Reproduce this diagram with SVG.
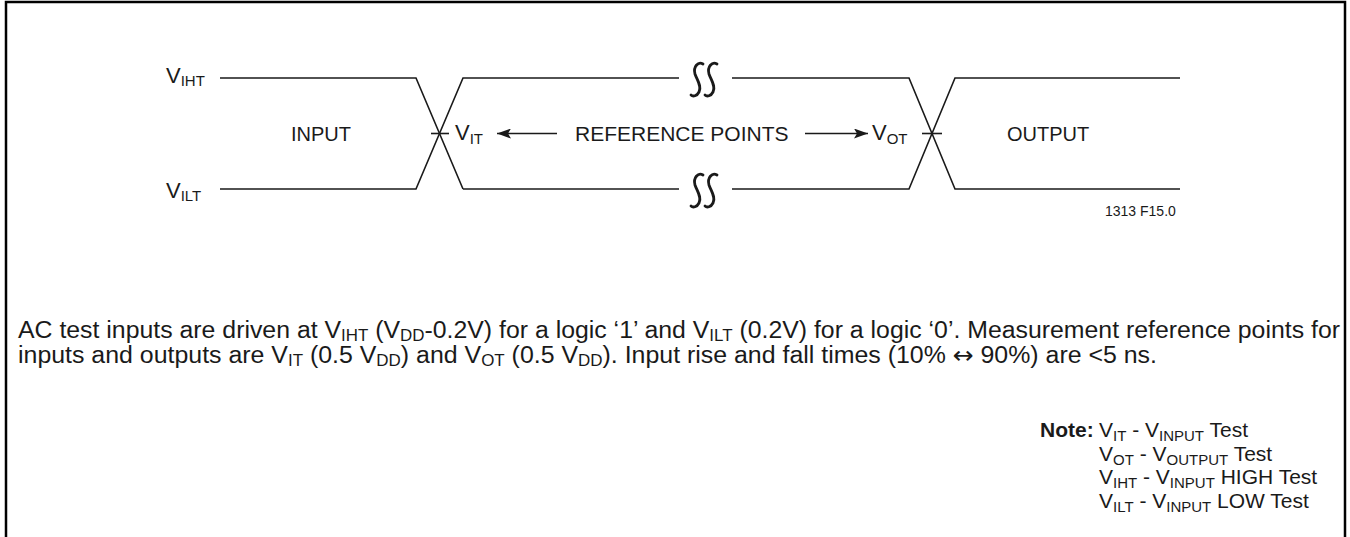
<svg xmlns="http://www.w3.org/2000/svg" width="1350" height="537" viewBox="0 0 1350 537">
<defs>
<style>
.t{font-family:"Liberation Sans",Arial,Helvetica,sans-serif;fill:#1a1a1a}
.lbl{font-size:20px}
.vbig{font-size:22px}
.sub{font-size:15px}
.body{font-size:23.5px}
.bsub{font-size:16px}
.nt{font-size:21px}
.nsub{font-size:15px}
.wave{fill:none;stroke:#1a1a1a;stroke-width:1.6;stroke-linejoin:miter}
.sq{fill:none;stroke:#1a1a1a;stroke-width:2.8;stroke-linecap:round}
.arr{stroke:#1a1a1a;stroke-width:1.6;fill:none}
</style>
<marker id="ah" viewBox="0 0 14 10" refX="14" refY="5" markerWidth="14" markerHeight="10" markerUnits="userSpaceOnUse" orient="auto">
<path d="M0,0 L14,5 L0,10 L3,5 z" fill="#1a1a1a"/>
</marker>
<path id="squig" d="M6,-16 C1,-19 -4,-13 -2,-6 C0,0 5,6 2,12 C0,16 -4,17 -6,15"/>
</defs>
<rect width="1350" height="537" fill="#ffffff"/>
<path d="M6,540 V2 H1345 V540" fill="none" stroke="#000" stroke-width="2.5"/>

<g id="waveforms">
<path class="wave" d="M220,78 H416 L463,189"/>
<path class="wave" d="M220,189 H416 L463,78 H679"/>
<path class="wave" d="M463,189 H679"/>
<path class="wave" d="M732,78 H909 L955,189 H1180"/>
<path class="wave" d="M732,189 H909 L955,78 H1180"/>
<path class="wave" d="M431,133.5 H449"/>
<path class="wave" d="M922,133.5 H942"/>
</g>

<g id="breaks">
<use href="#squig" class="sq" x="697" y="80"/>
<use href="#squig" class="sq" x="711" y="80"/>
<use href="#squig" class="sq" x="697" y="191"/>
<use href="#squig" class="sq" x="711" y="191"/>
</g>

<g id="connectors">
<line class="arr" x1="557" y1="133.5" x2="497" y2="133.5" marker-end="url(#ah)"/>
<line class="arr" x1="805" y1="133.5" x2="868" y2="133.5" marker-end="url(#ah)"/>
</g>

<g id="label-viht"><text class="t vbig" x="166" y="83">V<tspan class="sub" dy="3">IHT</tspan></text></g>
<g id="label-vilt"><text class="t vbig" x="166" y="198">V<tspan class="sub" dy="3">ILT</tspan></text></g>
<g id="label-input"><text class="t lbl" x="291" y="141">INPUT</text></g>
<g id="label-vit"><text class="t vbig" x="455" y="140">V<tspan class="sub" dy="4">IT</tspan></text></g>
<g id="label-ref"><text class="t" font-size="21" x="575" y="141">REFERENCE POINTS</text></g>
<g id="label-vot"><text class="t vbig" x="872" y="140">V<tspan class="sub" dy="4">OT</tspan></text></g>
<g id="label-output"><text class="t lbl" x="1007" y="141">OUTPUT</text></g>
<g id="label-fig"><text class="t" font-size="14" x="1105" y="216">1313 F15.0</text></g>

<g id="body-text">
<text class="t body" x="18" y="338" textLength="1322" lengthAdjust="spacingAndGlyphs">AC test inputs are driven at V<tspan class="bsub" dy="3">IHT</tspan><tspan dy="-3"> (V</tspan><tspan class="bsub" dy="3">DD</tspan><tspan dy="-3">-0.2V) for a logic ‘1’ and V</tspan><tspan class="bsub" dy="3">ILT</tspan><tspan dy="-3"> (0.2V) for a logic ‘0’. Measurement reference points for</tspan></text>
<text class="t body" x="18" y="363" textLength="1139" lengthAdjust="spacingAndGlyphs">inputs and outputs are V<tspan class="bsub" dy="3">IT</tspan><tspan dy="-3"> (0.5 V</tspan><tspan class="bsub" dy="3">DD</tspan><tspan dy="-3">) and V</tspan><tspan class="bsub" dy="3">OT</tspan><tspan dy="-3"> (0.5 V</tspan><tspan class="bsub" dy="3">DD</tspan><tspan dy="-3">). Input rise and fall times (10% </tspan><tspan font-family="DejaVu Sans, sans-serif">↔</tspan><tspan> 90%) are &lt;5 ns.</tspan></text>
</g>

<g id="note">
<text class="t nt" font-weight="bold" x="1040" y="437">Note:</text>
<text class="t nt" x="1099" y="437">V<tspan class="nsub" dy="4">IT</tspan><tspan dy="-4"> - V</tspan><tspan class="nsub" dy="4">INPUT</tspan><tspan dy="-4"> Test</tspan></text>
<text class="t nt" x="1099" y="461">V<tspan class="nsub" dy="4">OT</tspan><tspan dy="-4"> - V</tspan><tspan class="nsub" dy="4">OUTPUT</tspan><tspan dy="-4"> Test</tspan></text>
<text class="t nt" x="1099" y="484">V<tspan class="nsub" dy="4">IHT</tspan><tspan dy="-4"> - V</tspan><tspan class="nsub" dy="4">INPUT</tspan><tspan dy="-4"> HIGH Test</tspan></text>
<text class="t nt" x="1099" y="508">V<tspan class="nsub" dy="4">ILT</tspan><tspan dy="-4"> - V</tspan><tspan class="nsub" dy="4">INPUT</tspan><tspan dy="-4"> LOW Test</tspan></text>
</g>
</svg>
